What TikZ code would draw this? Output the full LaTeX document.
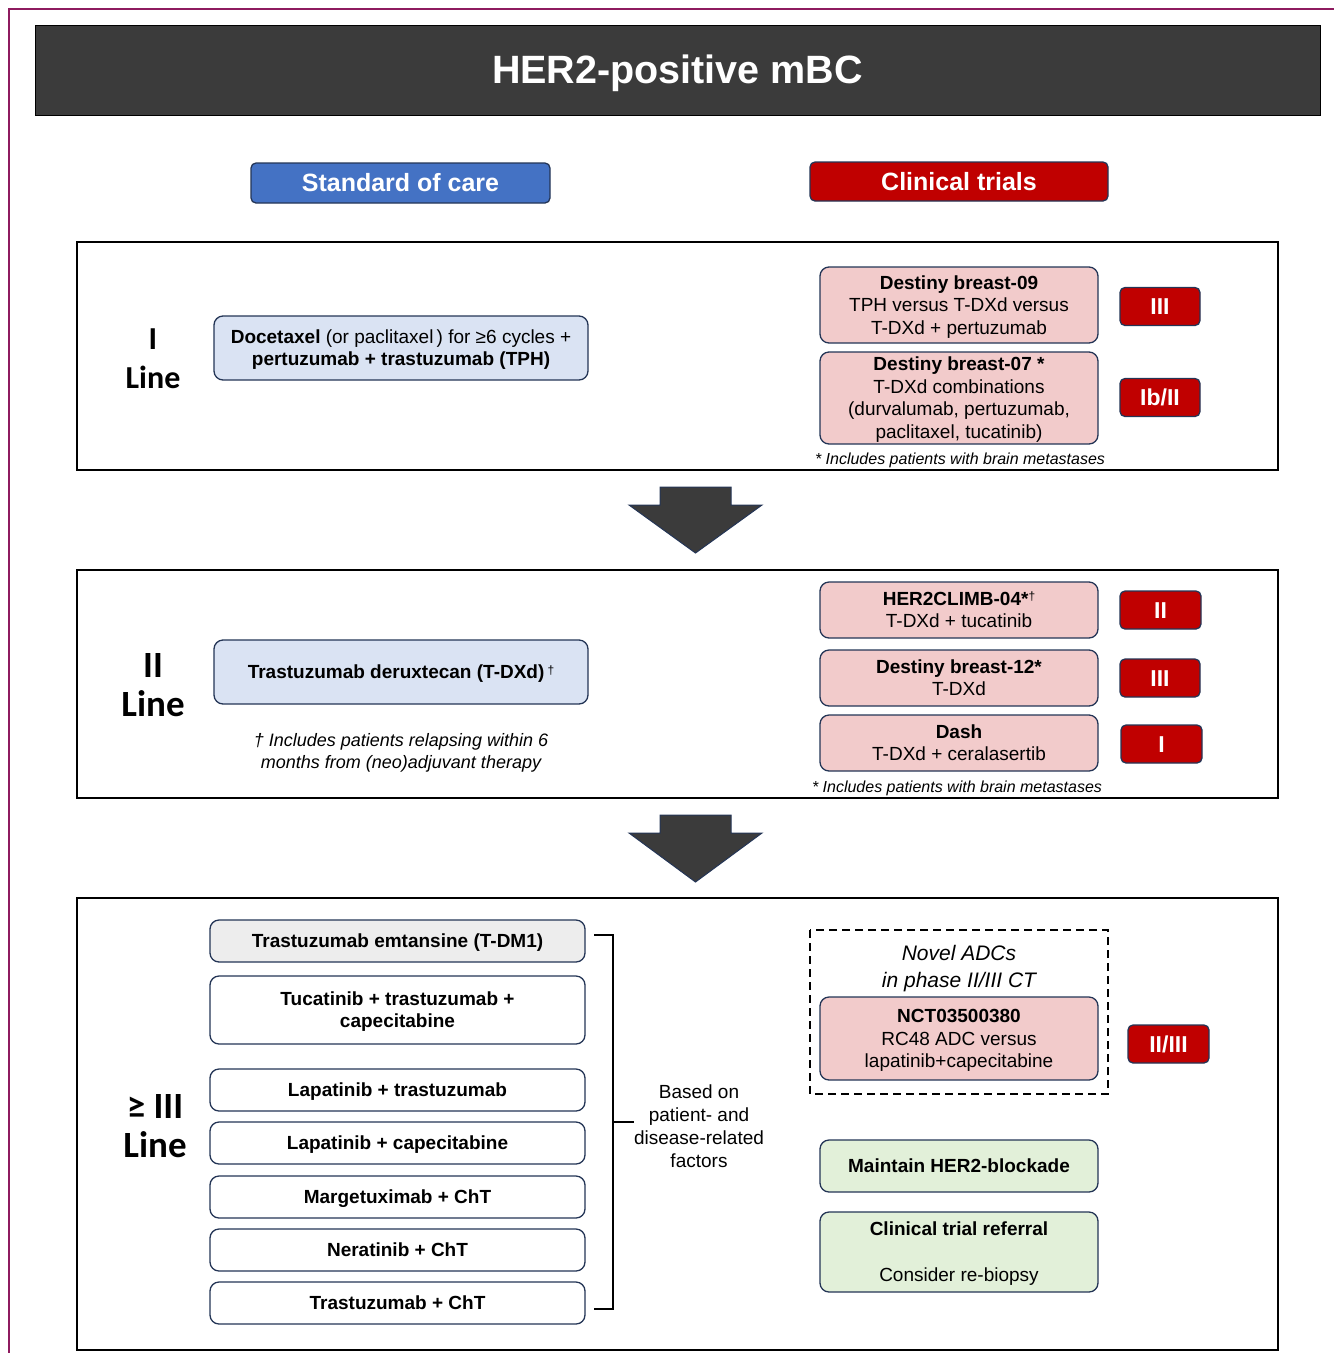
\documentclass[tikz,border=0pt]{standalone}
\usepackage{fontspec}
\setmainfont{Liberation Sans}
\newfontfamily\carl{Carlito}
\definecolor{navy}{HTML}{243556}
\definecolor{hdr}{HTML}{3B3B3B}
\definecolor{magent}{HTML}{8E1B5F}
\definecolor{socblue}{HTML}{4472C4}
\definecolor{ctred}{HTML}{C00000}
\definecolor{lblue}{HTML}{DAE3F3}
\definecolor{lpink}{HTML}{F2CBCB}
\definecolor{lgreen}{HTML}{E2F0D9}
\definecolor{lgray}{HTML}{EDEDED}
\newcommand\mystrutA{\rule{0pt}{0.92em}}
\newcommand\mystrutB{\rule[-0.22em]{0pt}{0pt}}
\begin{document}
\begin{tikzpicture}[x=1pt,y=-1pt,
  struts/.style={execute at begin node=\mystrutA, execute at end node=\mystrutB},
  box/.style={draw=navy, line width=1.3pt, rounded corners=9pt, align=center, inner sep=0pt,
    font=\fontsize{19}{22.5}\selectfont, struts},
  socbox/.style={box, fill=lblue},
  trialbox/.style={box, fill=lpink, minimum width=278pt},
  greenbox/.style={box, fill=lgreen, minimum width=278pt},
  listbox/.style={box, fill=white, minimum width=375pt, minimum height=42pt},
  badge/.style={draw=navy, line width=1.3pt, fill=ctred, rounded corners=5pt, text=white, inner sep=0pt,
    minimum width=80pt, minimum height=38pt, font=\bfseries\fontsize{23}{26}\selectfont, struts},
  headbox/.style={draw=navy, line width=1.3pt, rounded corners=5pt, text=white, inner sep=0pt,
    font=\bfseries\fontsize{25}{28}\selectfont, struts},
  panel/.style={draw=black, line width=2.5pt, minimum width=1201pt, inner sep=0pt},
  linelabel/.style={align=center, font=\carl\bfseries\fontsize{32}{39}\selectfont},
  biglabel/.style={align=center, font=\carl\bfseries\fontsize{37}{39}\selectfont},
  note/.style={align=center, font=\itshape\fontsize{16}{20}\selectfont},
  blockarrow/.style={fill=hdr, draw=navy, line width=1pt, line join=miter}
]
\useasboundingbox (0,0) rectangle (1334,1353);
% outer magenta frame
\draw[magent, line width=2pt] (9,1353) -- (9,9) -- (1334,9);

% header
\node[fill=hdr, draw=black, line width=0.8pt, minimum width=1285pt, minimum height=90pt, inner sep=0pt,
  text=white, font=\bfseries\fontsize{39.5}{44}\selectfont, struts] (title) at (677.5,70) {HER2-positive mBC};
\node[headbox, fill=socblue, minimum width=299pt, minimum height=40pt] (soc) at (400.5,183) {Standard of care};
\node[headbox, fill=ctred, minimum width=298pt, minimum height=39pt] (ct) at (959,181.5) {Clinical trials};

% ---------- Panel 1 ----------
\node[panel, minimum height=228pt] (p1) at (677.5,356) {};
\node[linelabel] (l1) at (153,358.5) {I\\Line};
\node[socbox, minimum width=374pt, minimum height=64pt] (doc) at (401,348)
  {\mystrutA\textbf{Docetaxel} (or paclitaxel\,) for ≥6 cycles +\\\textbf{pertuzumab + trastuzumab (TPH)}\mystrutB};
\node[trialbox, minimum height=76pt] (db09) at (959,305)
  {\mystrutA\textbf{Destiny breast-09}\\TPH versus T-DXd versus\\T-DXd + pertuzumab\mystrutB};
\node[trialbox, minimum height=92pt] (db07) at (959,398)
  {\mystrutA\textbf{Destiny breast-07 *}\\T-DXd combinations\\(durvalumab, pertuzumab,\\paclitaxel, tucatinib)\mystrutB};
\node[badge] (b09) at (1160,306.5) {III};
\node[badge] (b07) at (1160,397.5) {Ib/II};
\node[note] (n1) at (960,460) {* Includes patients with brain metastases};

% arrow 1
\draw[blockarrow] (660,487) -- (731,487) -- (731,505) -- (762,505) -- (695.5,553) -- (629,505) -- (660,505) -- cycle;

% ---------- Panel 2 ----------
\node[panel, minimum height=228pt] (p2) at (677.5,684) {};
\node[biglabel] (l2) at (153,685) {II\\Line};
\node[socbox, minimum width=374pt, minimum height=64pt] (tdxd) at (401,672)
  {\textbf{Trastuzumab deruxtecan (T-DXd)}\,\raisebox{0.45ex}{\fontsize{12}{12}\selectfont †}};
\node[note, font=\itshape\fontsize{18}{22}\selectfont] (n2a) at (401,752.5)
  {† Includes patients relapsing within 6\\months from (neo)adjuvant therapy};
\node[trialbox, minimum height=56pt] (h2c) at (959,610)
  {\mystrutA\textbf{HER2CLIMB-04*}\raisebox{0.45ex}{\fontsize{12}{12}\selectfont †}\\T-DXd + tucatinib\mystrutB};
\node[trialbox, minimum height=56pt] (db12) at (959,678)
  {\mystrutA\textbf{Destiny breast-12*}\\T-DXd\mystrutB};
\node[trialbox, minimum height=56pt] (dash) at (959,743)
  {\mystrutA\textbf{Dash}\\T-DXd + ceralasertib\mystrutB};
\node[badge, minimum width=81pt] (bh2c) at (1160.5,610) {II};
\node[badge] (bdb12) at (1160,678) {III};
\node[badge, minimum width=81pt] (bdash) at (1161.5,744) {I};
\node[note] (n2) at (957,788) {* Includes patients with brain metastases};

% arrow 2
\draw[blockarrow] (660,815) -- (731,815) -- (731,833) -- (762,833) -- (695.5,882) -- (629,833) -- (660,833) -- cycle;

% ---------- Panel 3 ----------
\node[panel, minimum height=452pt] (p3) at (677.5,1124) {};
\node[biglabel] (l3) at (155,1126.5) {≥ III\\Line};
\node[listbox, fill=lgray] (tdm1) at (397.5,941) {\textbf{Trastuzumab emtansine (T-DM1)}};
\node[listbox, minimum height=68pt] (tuc) at (397.5,1010) {\mystrutA\textbf{Tucatinib + trastuzumab +}\\\textbf{capecitabine}\mystrutB};
\node[listbox] (lt) at (397.5,1090) {\textbf{Lapatinib + trastuzumab}};
\node[listbox] (lc) at (397.5,1143) {\textbf{Lapatinib + capecitabine}};
\node[listbox] (marg) at (397.5,1197) {\textbf{Margetuximab + ChT}};
\node[listbox] (nera) at (397.5,1250) {\textbf{Neratinib + ChT}};
\node[listbox] (trch) at (397.5,1303) {\textbf{Trastuzumab + ChT}};
% bracket
\coordinate (bt) at (594,935);
\coordinate (bb) at (594,1309);
\coordinate (bm) at (634,1122);
\draw[line width=2.5pt, line join=miter] (bt) -- (613,935) -- (613,1309) -- (bb);
\draw[line width=2.5pt] (613,1122) -- (bm);
\node[align=center, font=\fontsize{19}{23}\selectfont] (based) at (699,1126)
  {Based on\\patient- and\\disease-related\\factors};
% dashed group
\draw[line width=2pt, dash pattern=on 8pt off 5pt] (810,930) rectangle (1108,1094);
\node[align=center, font=\itshape\fontsize{21}{27}\selectfont] (novel) at (959,969) {Novel ADCs\\in phase II/III CT};
\node[trialbox, minimum height=83pt] (nct) at (959,1038.5)
  {\mystrutA\textbf{NCT03500380}\\RC48 ADC versus\\lapatinib+capecitabine\mystrutB};
\node[badge, minimum width=81pt] (bnct) at (1168.5,1044) {II/III};
\node[greenbox, minimum height=52pt] (maint) at (959,1166) {\textbf{Maintain HER2-blockade}};
\node[greenbox, minimum height=80pt] (ctr) at (959,1252)
  {\mystrutA\textbf{Clinical trial referral}\\[23pt]Consider re-biopsy\mystrutB};
\end{tikzpicture}
\end{document}
